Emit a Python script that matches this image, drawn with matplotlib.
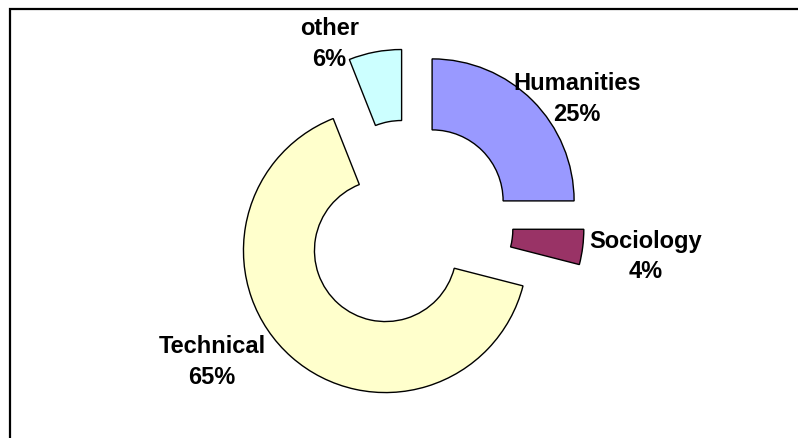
import matplotlib
matplotlib.use("Agg")
import matplotlib.pyplot as plt
from matplotlib.patches import Rectangle

categories = ["Humanities", "Sociology", "Technical", "other"]
shares = [25, 4, 65, 6]
colors = ["#9999FF", "#993366", "#FFFFCC", "#CCFFFF"]

# label centres in data units (radius = 1)
label_xy = [(1.19, 0.894), (1.676, -0.215), (-1.38, -0.956), (-0.553, 1.282)]

W, H = 798, 439
cx, cy, r_px = 408, 226, 142   # pie centre / radius in pixels

fig = plt.figure(figsize=(W / 100, H / 100), dpi=100)
ax = fig.add_axes([0, 0, 1, 1])

ax.pie(shares, colors=colors, startangle=90, counterclock=False,
       explode=[0.24] * len(shares), radius=1,
       wedgeprops=dict(width=0.5, edgecolor="black", linewidth=1.0))

ax.set_aspect("auto")
ax.set_xlim(-cx / r_px, (W - cx) / r_px)
ax.set_ylim(-(H - cy) / r_px, cy / r_px)
ax.axis("off")

for name, val, (x, y) in zip(categories, shares, label_xy):
    ax.text(x, y, f"{name}\n{val}%", ha="center", va="center",
            fontsize=17, fontweight="bold", family="Liberation Sans",
            linespacing=1.42)

# outer chart border (extends past the right / bottom edge)
fig.add_artist(Rectangle((9.5 / W, -0.1), 1.0, 1 - 9.5 / H + 0.1,
                         transform=fig.transFigure, fill=False,
                         edgecolor="black", linewidth=1.6))

fig.savefig("out.png", dpi=100, facecolor="white")
